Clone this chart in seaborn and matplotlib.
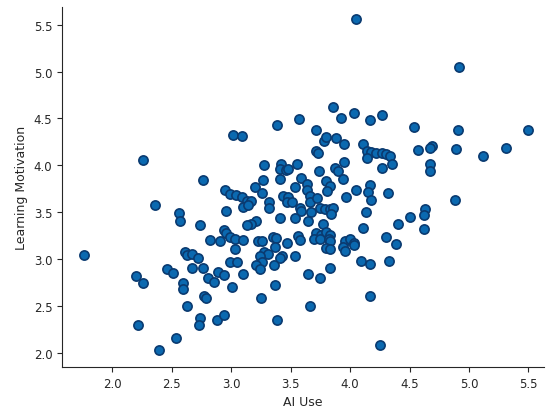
import matplotlib
matplotlib.use("Agg")
import matplotlib.pyplot as plt
import seaborn as sns
import pandas as pd

ai_use = [
    4.05, 4.92, 3.86, 4.03, 4.27, 3.92, 4.17, 3.57, 3.39, 4.54, 4.91, 5.50, 3.71,
    3.02, 3.09, 3.78, 3.80, 3.88, 3.95, 4.11, 4.69, 4.67, 4.57, 4.89, 5.31, 5.12,
    4.14, 4.18, 4.22, 4.27, 4.30, 4.34, 4.14, 4.35, 4.27,
    3.71, 3.73, 3.95, 2.26, 3.28,
    3.42, 3.41, 3.46, 3.48, 3.55, 3.74, 3.87, 3.90, 3.94, 4.67, 4.67,
    3.41, 2.76, 3.27, 3.59, 3.64, 3.64, 3.80, 3.83, 3.81, 4.05, 4.17, 4.15, 4.32,
    3.20, 2.95, 2.99, 3.26, 3.54,
    3.04, 3.09, 3.13, 3.17, 3.10, 3.14,
    3.44, 3.48, 3.47, 3.51, 3.66, 3.66, 3.72, 3.97, 4.18, 4.88, 3.32, 3.32, 2.36,
    3.58, 3.59, 3.75, 3.79, 3.83, 3.86, 3.84, 3.67, 2.96, 4.13, 4.63, 4.62,
    2.56, 2.57, 3.41, 3.54, 4.50, 4.40, 3.21, 3.17, 3.13, 3.65, 3.77, 2.74, 4.11, 4.62,
    2.94, 2.96, 2.99, 3.03,
    3.71, 3.76, 3.80, 3.83, 3.70, 3.75, 3.82, 3.83,
    2.82, 2.91, 3.10, 3.23, 3.26, 3.35, 3.38, 3.47, 3.56, 3.58, 4.30, 4.39,
    3.96, 4.00, 4.03, 4.03, 3.94, 3.96, 3.80, 3.83, 3.03, 3.37,
    3.28, 3.31, 3.24, 3.26, 2.61, 2.63, 2.67, 2.72, 1.76, 3.43, 3.41, 3.54,
    2.99, 3.05, 4.09, 4.17, 4.33, 3.21, 3.24, 3.36, 2.67, 2.76, 3.83,
    2.46, 2.51, 2.20, 2.26, 3.10, 3.65, 3.75, 2.89, 2.94, 2.81, 2.86,
    2.60, 2.60, 3.01, 3.37, 2.77, 2.79, 3.25, 4.17, 2.63, 3.66,
    2.74, 2.73, 2.88, 2.94, 3.39, 2.22, 2.54, 4.25, 2.39,
]

learning_motivation = [
    5.56, 5.05, 4.62, 4.56, 4.54, 4.50, 4.48, 4.49, 4.43, 4.41, 4.38, 4.38, 4.38,
    4.32, 4.31, 4.26, 4.30, 4.29, 4.23, 4.23, 4.21, 4.18, 4.16, 4.17, 4.19, 4.10,
    4.15, 4.14, 4.13, 4.13, 4.12, 4.10, 4.08, 4.01, 3.97,
    4.15, 4.13, 4.04, 4.06, 4.00,
    4.02, 3.96, 3.95, 3.96, 4.01, 3.94, 3.97, 3.94, 3.85, 4.01, 3.94,
    3.85, 3.84, 3.84, 3.87, 3.80, 3.74, 3.83, 3.78, 3.73, 3.74, 3.79, 3.72, 3.71,
    3.77, 3.74, 3.69, 3.71, 3.77,
    3.68, 3.66, 3.62, 3.62, 3.56, 3.58,
    3.67, 3.66, 3.61, 3.61, 3.67, 3.61, 3.65, 3.66, 3.63, 3.63, 3.61, 3.55, 3.58,
    3.55, 3.51, 3.55, 3.53, 3.53, 3.55, 3.48, 3.50, 3.51, 3.50, 3.54, 3.47,
    3.49, 3.41, 3.44, 3.44, 3.45, 3.38, 3.41, 3.38, 3.36, 3.41, 3.37, 3.36, 3.33, 3.32,
    3.31, 3.28, 3.24, 3.22,
    3.28, 3.26, 3.29, 3.26, 3.22, 3.21, 3.21, 3.19,
    3.20, 3.19, 3.20, 3.19, 3.19, 3.24, 3.23, 3.17, 3.25, 3.20, 3.24, 3.16,
    3.19, 3.21, 3.17, 3.15, 3.13, 3.09, 3.12, 3.11, 3.11, 3.13,
    3.08, 3.06, 3.03, 2.97, 3.08, 3.04, 3.06, 3.01, 3.04, 3.03, 3.01, 3.03,
    2.97, 2.97, 2.98, 2.95, 2.98, 2.94, 2.89, 2.94, 2.91, 2.91, 2.91,
    2.89, 2.85, 2.82, 2.75, 2.84, 2.84, 2.80, 2.86, 2.83, 2.80, 2.76,
    2.75, 2.68, 2.70, 2.73, 2.61, 2.59, 2.59, 2.61, 2.50, 2.50,
    2.37, 2.30, 2.35, 2.41, 2.35, 2.30, 2.16, 2.08, 2.03,
]

ticks = [2.0, 2.5, 3.0, 3.5, 4.0, 4.5, 5.0, 5.5]

df = pd.DataFrame({"AI Use": ai_use, "Learning Motivation": learning_motivation})

sns.set_style("ticks")
plt.rcParams["font.family"] = ["DejaVu Sans"]

fig, ax = plt.subplots(figsize=(5.5, 4.14), dpi=100)
fig.subplots_adjust(left=0.113, right=0.989, bottom=0.111, top=0.981)

sns.scatterplot(data=df, x="AI Use", y="Learning Motivation", ax=ax,
                color="#0b69b0", edgecolor="#0a3a70", linewidth=1.2, s=44)

ax.set_xlim(1.58, 5.63)
ax.set_ylim(1.85, 5.69)
ax.set_xticks(ticks)
ax.set_yticks(ticks)
ax.set_xlabel("AI Use", fontsize=9)
ax.set_ylabel("Learning Motivation", fontsize=9)
ax.tick_params(labelsize=8.5, length=3.5)
sns.despine(ax=ax)

fig.savefig("out.png", dpi=100)
